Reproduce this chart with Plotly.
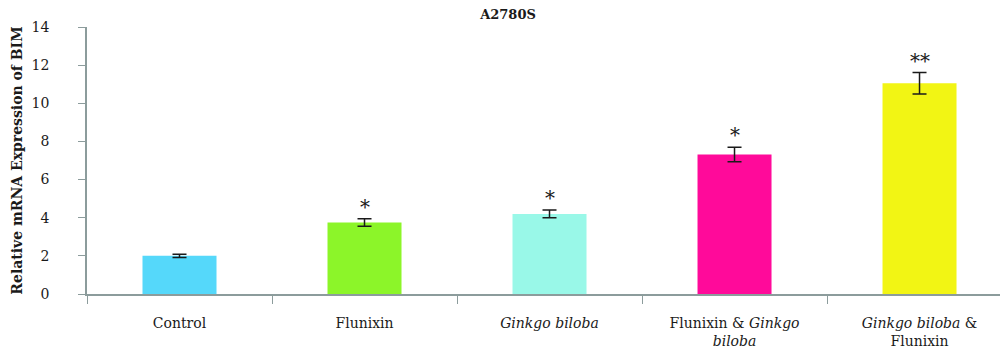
import plotly.graph_objects as go

categories = ["Control", "Flunixin", "<i>Ginkgo biloba</i>",
              "Flunixin & <i>Ginkgo</i><br><i>biloba</i>",
              "<i>Ginkgo biloba</i> &<br>Flunixin"]
values = [2.0, 3.75, 4.2, 7.32, 11.05]
errors = [0.08, 0.2, 0.2, 0.38, 0.56]
stars = ["", "*", "*", "*", "**"]
colors = ["#55D8FA", "#8CF529", "#99F8E8", "#FF0A9A", "#F2F514"]

font_family = "DejaVu Serif"

fig = go.Figure()
fig.add_trace(go.Bar(
    x=categories, y=values, width=0.4,
    marker=dict(color=colors, line=dict(width=0)),
    error_y=dict(type="data", array=errors, visible=True,
                 color="#1a1a1a", thickness=1.5, width=7),
))

for c, v, e, s in zip(categories, values, errors, stars):
    if s:
        fig.add_annotation(x=c, y=v + e, text=s, showarrow=False,
                           yanchor="bottom", yshift=-2,
                           font=dict(family=font_family, size=20, color="#1a1a1a"))

fig.update_layout(
    width=1000, height=353,
    margin=dict(l=87, r=0, t=27, b=59),
    paper_bgcolor="white", plot_bgcolor="white",
    showlegend=False,
    bargap=0.6,
    font=dict(family=font_family, color="#1a1a1a"),
    title=dict(text="<b>A2780S</b>", x=0.508, xanchor="center",
               y=0.96, yanchor="middle", yref="container",
               font=dict(family=font_family, size=13, color="#1a1a1a")),
)
fig.update_xaxes(
    type="category", range=[-0.5, 4.435],
    showline=True, linecolor="#8C9C9C", linewidth=1.5,
    ticks="outside", tickson="boundaries", ticklen=8, tickcolor="#8C9C9C",
    tickfont=dict(family=font_family, size=14, color="#1a1a1a"),
    ticklabelstandoff=15,
    showgrid=False, zeroline=False,
)
fig.update_yaxes(
    range=[0, 14], dtick=2,
    showline=True, linecolor="#8C9C9C", linewidth=1.5,
    ticks="outside", ticklen=7, tickcolor="#8C9C9C",
    tickfont=dict(family=font_family, size=14, color="#1a1a1a"),
    ticklabelstandoff=26,
    showgrid=False, zeroline=False,
    title=dict(text="<b>Relative mRNA Expression of BIM</b>",
               font=dict(family=font_family, size=14, color="#1a1a1a"),
               standoff=6),
)

fig.write_html("out.html")
